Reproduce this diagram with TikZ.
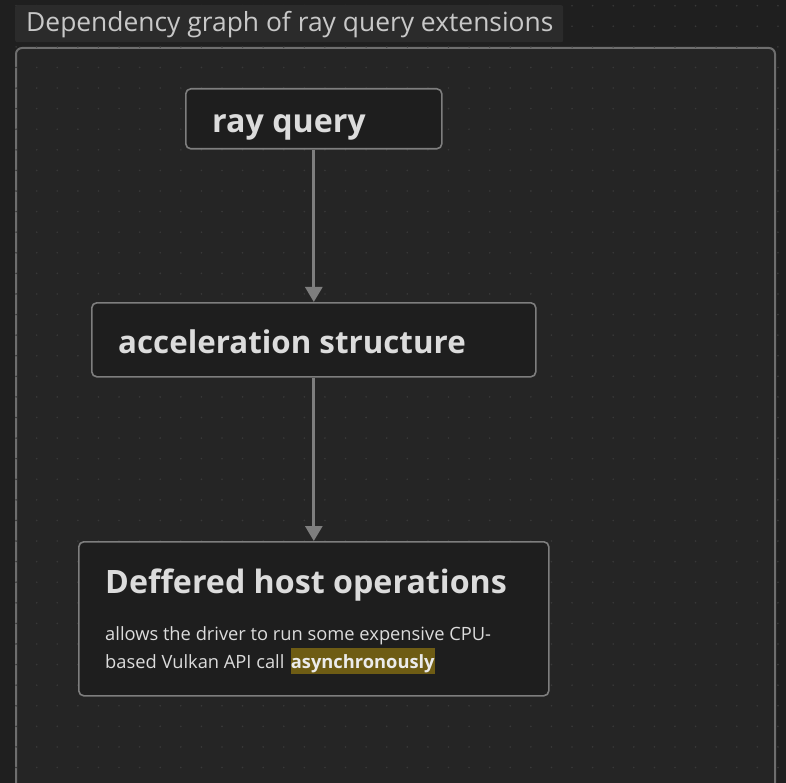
\documentclass[tikz,border=0pt]{standalone}
\usepackage{fontspec}
\setmainfont{Open Sans}
\usetikzlibrary{arrows.meta}
\definecolor{bgout}{HTML}{1F1F1F}
\definecolor{bgin}{HTML}{252525}
\definecolor{titlebg}{HTML}{2B2B2B}
\definecolor{nodebg}{HTML}{1E1E1E}
\definecolor{edge}{HTML}{7E7E7E}
\definecolor{framec}{HTML}{6E6E6E}
\definecolor{txt}{HTML}{DCDCDC}
\definecolor{titletxt}{HTML}{C8C8C8}
\definecolor{hl}{HTML}{6E5C14}
\definecolor{dotc}{HTML}{393939}
\tikzset{
  box/.style={draw=edge, line width=1.6pt, fill=nodebg, rounded corners=5pt},
  head/.style={anchor=base west, inner sep=0pt, text=txt, font=\fontsize{32.2}{36}\selectfont\bfseries},
  body/.style={anchor=base west, inner sep=0pt, text=txt, font=\fontsize{18.3}{22}\selectfont},
  conn/.style={draw=edge, line width=2.8pt, -{Triangle[width=17pt,length=15pt]}},
}
\begin{document}
\begin{tikzpicture}[x=1pt,y=-1pt]
\useasboundingbox (0,0) rectangle (786,783);
\clip (0,0) rectangle (786,783);
\fill[bgout] (0,0) rectangle (786,783);
% frame
\draw[framec, line width=2pt, fill=bgin, rounded corners=6pt] (16,48) rectangle (775,800);
% dot grid
\foreach \i in {0,...,37} {
  \foreach \j in {0,...,38} {
    \fill[dotc] ({16.1+20.59*\i},{5.7+20.59*\j}) circle (0.9pt);
  }
}
% title
\node[fill=titlebg, rounded corners=2pt, anchor=north west, minimum width=548pt, minimum height=37pt, inner sep=0pt] (titlebox) at (15,5) {};
\node[anchor=base west, inner sep=0pt, text=titletxt, font=\fontsize{26.4}{30}\selectfont] (title) at (26,32) {Dependency graph of ray query extensions};
% nodes
\node[box, anchor=north west, minimum width=256pt, minimum height=60pt] (rq) at (185,88) {};
\node[head] (rqt) at (212,133) {ray query};
\node[box, anchor=north west, minimum width=444pt, minimum height=74pt] (as) at (91,302) {};
\node[head, font=\fontsize{31.3}{36}\selectfont\bfseries] (ast) at (118,353.5) {acceleration structure};
\node[box, anchor=north west, minimum width=470pt, minimum height=154pt] (dh) at (78,541) {};
\node[head] (dht) at (105,593) {Deffered host operations};
\node[body] (l1) at (105,640) {allows the driver to run some expensive CPU-};
\node[body] (l2) at (105,668) {based Vulkan API call};
\node[anchor=base west, inner xsep=0pt, inner ysep=0pt, text height=20pt, text depth=5.5pt, fill=hl, text=white!92!black, font=\fontsize{18.3}{22}\selectfont\bfseries] (hw) at ([xshift=6pt]l2.base east) {asynchronously};
% connectors
\draw[conn] (rq.south) -- (as.north);
\draw[conn] (as.south) -- (dh.north);
\end{tikzpicture}
\end{document}
